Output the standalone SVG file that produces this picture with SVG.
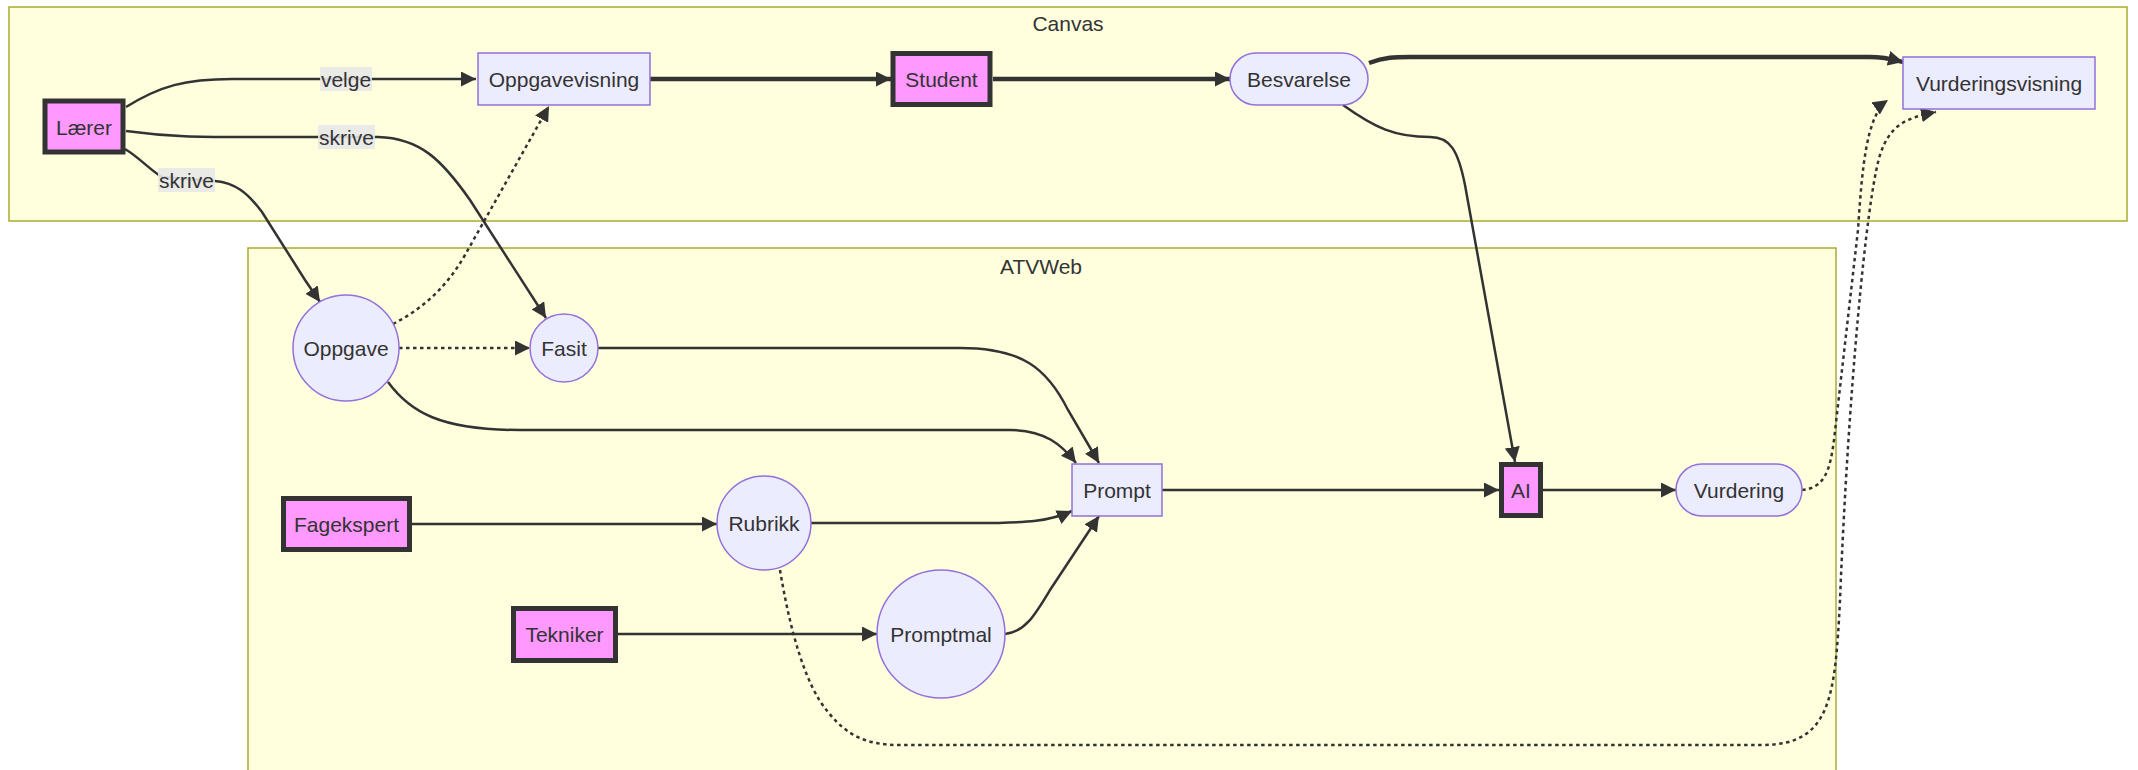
<svg xmlns="http://www.w3.org/2000/svg" width="2138" height="770" viewBox="0 0 2138 770">
<style>
  text { font-family: "Liberation Sans", Arial, sans-serif; font-size: 21px; fill: #333333; text-anchor: middle; dominant-baseline: central; }
  .cluster { fill: #ffffde; stroke: #aaaa33; stroke-width: 1.5; }
  .node { fill: #ECECFF; stroke: #9370DB; stroke-width: 1.5; }
  .actor { fill: #ff99ff; stroke: #333333; stroke-width: 5; }
  .edge { fill: none; stroke: #333333; stroke-width: 2.5; }
  .thick { stroke-width: 4.5; }
  .dotted { stroke-dasharray: 3.5 3.5; }
  .lbl { fill: #e8e8e8; opacity: 0.9; }
</style>
<defs>
  <marker id="arrow" viewBox="0 0 10 10" refX="10" refY="5" markerUnits="userSpaceOnUse" markerWidth="15" markerHeight="15" orient="auto">
    <path d="M0,0 L10,5 L0,10 z" fill="#333333"/>
  </marker>
</defs>
<rect width="2138" height="770" fill="#ffffff"/>
<g id="cluster-Canvas">
  <rect class="cluster" x="9" y="7" width="2118" height="214"/>
  <text x="1068" y="23">Canvas</text>
</g>
<g id="cluster-ATVWeb">
  <rect class="cluster" x="248" y="248" width="1588" height="540"/>
  <text x="1041" y="266">ATVWeb</text>
</g>
<g id="connectors">
  <path class="edge" d="M126,107 C160,86 185,79 232,79 L476,79" marker-end="url(#arrow)"/>
  <path class="edge" d="M126,131 C170,137 200,137 240,137 L378,137 C420,138 442,160 470,200 L546,318" marker-end="url(#arrow)"/>
  <path class="edge" d="M125,149 C140,158 150,170 162,177 L215,181 C235,183 247,192 262,212 L305,280 L320,302" marker-end="url(#arrow)"/>
  <path class="edge dotted" d="M393,324 C420,310 445,290 465,255 L549,106" marker-end="url(#arrow)"/>
  <path class="edge dotted" d="M399,348 L530,348" marker-end="url(#arrow)"/>
  <path class="edge" d="M388,382 C410,412 440,430 520,430 L1010,430 C1045,430 1062,445 1076,463" marker-end="url(#arrow)"/>
  <path class="edge" d="M598,348 L960,348 C1022,348 1047,368 1068,410 L1099,463" marker-end="url(#arrow)"/>
  <path class="edge" d="M811,523 L975,523 C1030,523 1050,521 1072,511" marker-end="url(#arrow)"/>
  <path class="edge" d="M1005,634 C1025,632 1035,615 1050,590 L1099,516" marker-end="url(#arrow)"/>
  <path class="edge" d="M412,524 L717,524" marker-end="url(#arrow)"/>
  <path class="edge" d="M618,634 L877,634" marker-end="url(#arrow)"/>
  <path class="edge thick" d="M650,79 L891,79" marker-end="url(#arrow)"/>
  <path class="edge thick" d="M993,79 L1230,79" marker-end="url(#arrow)"/>
  <path class="edge thick" d="M1369,63 C1385,57 1395,57 1410,57 L1870,57 C1885,57 1895,60 1903,62" marker-end="url(#arrow)"/>
  <path class="edge" d="M1343,105 C1375,128 1395,137 1430,137 C1450,137 1458,150 1465,185 L1515,462" marker-end="url(#arrow)"/>
  <path class="edge" d="M1162,490 L1499,490" marker-end="url(#arrow)"/>
  <path class="edge" d="M1543,490 L1676,490" marker-end="url(#arrow)"/>
  <path class="edge dotted" d="M1802,490 C1825,488 1830,470 1834,440 L1858,230 C1862,170 1866,115 1888,100" marker-end="url(#arrow)"/>
  <path class="edge dotted" d="M780,570 C790,630 805,685 828,712 C848,737 868,745 900,745 L1762,745 C1830,745 1835,700 1840,600 C1848,400 1866,200 1880,155 C1890,125 1905,118 1936,112" marker-end="url(#arrow)"/>
  <rect class="lbl" x="320" y="67" width="52" height="24"/>
  <text x="346" y="79">velge</text>
  <rect class="lbl" x="318" y="125" width="57" height="24"/>
  <text x="346.5" y="137">skrive</text>
  <rect class="lbl" x="158" y="168" width="57" height="24"/>
  <text x="186.5" y="180">skrive</text>
</g>
<g id="node-Laerer">
  <rect class="actor" x="45" y="101" width="78" height="51"/>
  <text x="84" y="127">Lærer</text>
</g>
<g id="node-Oppgavevisning">
  <rect class="node" x="478" y="53" width="172" height="52"/>
  <text x="564" y="79">Oppgavevisning</text>
</g>
<g id="node-Student">
  <rect class="actor" x="893" y="53.5" width="97" height="51"/>
  <text x="941.5" y="79">Student</text>
</g>
<g id="node-Besvarelse">
  <rect class="node" x="1230" y="53" width="138" height="52" rx="26" ry="26"/>
  <text x="1299" y="79">Besvarelse</text>
</g>
<g id="node-Vurderingsvisning">
  <rect class="node" x="1903" y="57" width="192" height="52"/>
  <text x="1999" y="83">Vurderingsvisning</text>
</g>
<g id="node-Oppgave">
  <circle class="node" cx="346" cy="348" r="53"/>
  <text x="346" y="348">Oppgave</text>
</g>
<g id="node-Fasit">
  <circle class="node" cx="564" cy="348" r="34"/>
  <text x="564" y="348">Fasit</text>
</g>
<g id="node-Fagekspert">
  <rect class="actor" x="283.5" y="498.5" width="126" height="51"/>
  <text x="346.5" y="524">Fagekspert</text>
</g>
<g id="node-Rubrikk">
  <circle class="node" cx="764" cy="523" r="47"/>
  <text x="764" y="523">Rubrikk</text>
</g>
<g id="node-Tekniker">
  <rect class="actor" x="513.5" y="608.5" width="102" height="52"/>
  <text x="564.5" y="634">Tekniker</text>
</g>
<g id="node-Promptmal">
  <circle class="node" cx="941" cy="634" r="64"/>
  <text x="941" y="634">Promptmal</text>
</g>
<g id="node-Prompt">
  <rect class="node" x="1072" y="464" width="90" height="52"/>
  <text x="1117" y="490">Prompt</text>
</g>
<g id="node-AI">
  <rect class="actor" x="1501.5" y="464.5" width="39" height="51"/>
  <text x="1521" y="490">AI</text>
</g>
<g id="node-Vurdering">
  <rect class="node" x="1676" y="464" width="126" height="52" rx="26" ry="26"/>
  <text x="1739" y="490">Vurdering</text>
</g>
</svg>
